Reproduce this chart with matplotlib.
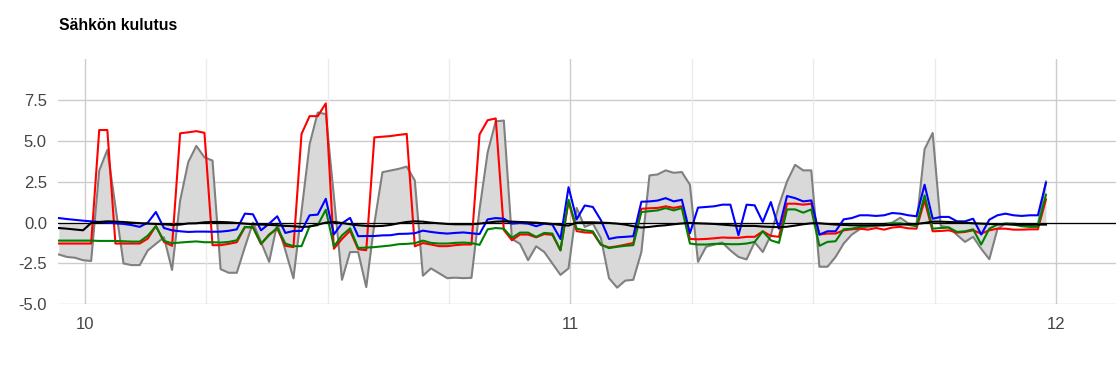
"""Sähkön kulutus - area + line chart."""
import numpy as np
import matplotlib
matplotlib.use('Agg')
import matplotlib.pyplot as plt

plt.rcParams['font.family'] = ['Liberation Sans', 'DejaVu Sans']

# Time axis: day-of-month, one sample every 24 min starting 9.946
t_start = 9.946
t_step = 1 / 60
n_points = 123

# Series values
gray_vals = [
    -1.95, -2.1, -2.15, -2.3, -2.35, 3.19, 4.45, 1.0, -2.5, -2.6,
    -2.6, -1.7, -1.3, -0.9, -2.9, 1.36, 3.7, 4.7, 4.0, 3.8,
    -2.85, -3.07, -3.07, -1.5, 0.0, -1.2, -2.4, -0.06, -1.7, -3.41,
    0.7, 4.8, 6.74, 6.65, 1.6, -3.5, -1.8, -1.8, -3.95, -0.06,
    3.09, 3.19, 3.29, 3.43, 2.58, -3.25, -2.8, -3.1, -3.4, -3.37,
    -3.4, -3.38, 0.8, 4.3, 6.2, 6.25, -1.0, -1.3, -2.3, -1.45,
    -1.8, -2.5, -3.2, -2.8, 0.9, -0.26, -0.06, -0.95, -3.4, -3.98,
    -3.55, -3.5, -1.8, 2.89, 2.95, 3.2, 3.05, 3.1, 2.32, -2.4,
    -1.48, -1.35, -1.22, -1.7, -2.1, -2.25, -1.2, -1.8, -0.77, 1.06,
    2.52, 3.54, 3.2, 3.2, -2.7, -2.7, -2.1, -1.28, -0.73, -0.4,
    -0.26, -0.2, -0.08, 0.0, 0.3, -0.05, -0.1, 4.5, 5.49, -0.2,
    -0.3, -0.75, -1.18, -0.87, -1.6, -2.24, -0.4, -0.05, -0.05, -0.15,
    -0.15, -0.12, 2.52,
]
red_vals = [
    -1.28, -1.28, -1.28, -1.28, -1.28, 5.67, 5.67, -1.28, -1.28, -1.28,
    -1.28, -0.98, -0.2, -1.18, -1.42, 5.47, 5.53, 5.6, 5.5, -1.38,
    -1.38, -1.3, -1.2, -0.28, -0.28, -1.32, -0.72, -0.38, -1.42, -1.5,
    5.43, 6.52, 6.52, 7.3, -1.6, -1.0, -0.5, -1.63, -1.69, 5.22,
    5.26, 5.3, 5.37, 5.43, -1.45, -1.25, -1.34, -1.44, -1.44, -1.38,
    -1.34, -1.34, 5.4, 6.27, 6.38, -0.45, -1.08, -0.73, -0.73, -0.9,
    -0.7, -0.75, -1.7, 1.3, -0.52, -0.6, -0.62, -1.36, -1.52, -1.45,
    -1.35, -1.25, 0.85, 0.88, 0.9, 1.0, 0.9, 1.0, -1.0, -1.02,
    -1.0, -0.96, -0.91, -0.93, -0.93, -0.87, -0.87, -0.53, -0.81, -0.87,
    1.16, 1.16, 1.1, 1.16, -0.73, -0.67, -0.67, -0.47, -0.41, -0.37,
    -0.43, -0.33, -0.43, -0.3, -0.26, -0.35, -0.37, 1.36, -0.53, -0.51,
    -0.47, -0.61, -0.57, -0.47, -0.67, -0.47, -0.37, -0.37, -0.43, -0.43,
    -0.41, -0.41, 1.42,
]
blue_vals = [
    0.28, 0.22, 0.17, 0.12, 0.08, 0.04, 0.0, -0.04, -0.08, -0.15,
    -0.26, 0.0, 0.65, -0.33, -0.47, -0.53, -0.57, -0.55, -0.55, -0.56,
    -0.55, -0.5, -0.41, 0.55, 0.51, -0.47, -0.06, 0.39, -0.63, -0.51,
    -0.51, 0.45, 0.49, 1.46, -0.72, -0.04, 0.29, -0.83, -0.82, -0.82,
    -0.78, -0.77, -0.69, -0.68, -0.65, -0.49, -0.57, -0.63, -0.67, -0.63,
    -0.6, -0.65, -0.7, 0.2, 0.28, 0.24, -0.06, -0.02, -0.06, -0.22,
    -0.06, -0.12, -1.0, 2.17, 0.2, 1.05, 0.96, 0.15, -1.0, -0.9,
    -0.87, -0.83, 1.28, 1.3, 1.35, 1.5, 1.3, 1.4, -0.65, 0.92,
    0.96, 1.0, 1.1, 1.1, -0.77, 1.1, 1.06, 0.04, 1.26, -0.37,
    1.63, 1.5, 1.3, 1.36, -0.73, -0.53, -0.53, 0.2, 0.28, 0.45,
    0.45, 0.41, 0.45, 0.59, 0.55, 0.45, 0.39, 2.32, 0.24, 0.35,
    0.35, 0.08, 0.08, 0.24, -0.73, 0.18, 0.45, 0.55, 0.45, 0.41,
    0.45, 0.45, 2.44,
]
green_vals = [
    -1.1, -1.1, -1.1, -1.1, -1.1, -1.12, -1.12, -1.12, -1.14, -1.16,
    -1.16, -0.8, -0.22, -1.12, -1.26, -1.22, -1.18, -1.15, -1.2, -1.2,
    -1.22, -1.18, -1.08, -0.26, -0.3, -1.28, -0.77, -0.3, -1.28, -1.44,
    -1.44, -0.22, -0.16, 0.79, -1.46, -0.78, -0.35, -1.55, -1.53, -1.5,
    -1.45, -1.4, -1.32, -1.3, -1.26, -1.1, -1.24, -1.28, -1.28, -1.24,
    -1.22, -1.25, -1.36, -0.41, -0.33, -0.37, -0.93, -0.61, -0.61, -0.87,
    -0.63, -0.67, -1.69, 1.4, -0.37, -0.47, -0.53, -1.34, -1.56, -1.48,
    -1.42, -1.38, 0.65, 0.7, 0.75, 0.89, 0.75, 0.89, -1.28, -1.34,
    -1.34, -1.3, -1.3, -1.32, -1.32, -1.28, -1.18, -0.53, -1.08, -1.24,
    0.81, 0.81, 0.61, 0.81, -1.42, -1.18, -1.14, -0.41, -0.37, -0.26,
    -0.2, -0.16, -0.16, -0.05, -0.04, -0.14, -0.22, 1.67, -0.37, -0.33,
    -0.3, -0.57, -0.53, -0.41, -1.34, -0.37, -0.12, -0.06, -0.12, -0.22,
    -0.26, -0.26, 1.71,
]
black_vals = [
    -0.33, -0.37, -0.42, -0.47, -0.02, 0.04, 0.08, 0.06, 0.04, 0.0,
    -0.03, -0.06, -0.08, -0.1, -0.14, -0.12, -0.05, -0.04, 0.02, 0.04,
    0.04, 0.02, -0.02, -0.06, -0.1, -0.12, -0.14, -0.16, -0.2, -0.22,
    -0.26, -0.24, -0.12, 0.0, 0.04, -0.02, -0.1, -0.16, -0.2, -0.22,
    -0.2, -0.14, -0.04, 0.04, 0.08, 0.06, 0.0, -0.04, -0.08, -0.1,
    -0.1, -0.1, -0.06, 0.0, 0.06, 0.08, 0.06, 0.04, 0.02, 0.0,
    -0.04, -0.08, -0.14, -0.18, 0.0, 0.02, 0.02, 0.0, -0.02, -0.06,
    -0.12, -0.22, -0.3, -0.26, -0.2, -0.16, -0.1, -0.05, -0.02, -0.04,
    -0.06, -0.08, -0.12, -0.16, -0.2, -0.2, -0.2, -0.24, -0.26, -0.28,
    -0.25, -0.18, -0.1, -0.04, -0.04, -0.08, -0.12, -0.14, -0.16, -0.16,
    -0.16, -0.16, -0.16, -0.14, -0.12, -0.1, -0.08, -0.02, 0.06, 0.06,
    0.04, 0.02, 0.0, -0.04, -0.06, -0.08, -0.1, -0.1, -0.12, -0.12,
    -0.12, -0.12, -0.12,
]

y_ticks = [-5.0, -2.5, 0.0, 2.5, 5.0, 7.5]
day_ticks = [10, 11, 12]
minor_ticks = [10.25, 10.5, 10.75, 11.25, 11.5, 11.75]

times = t_start + np.arange(n_points) * t_step

fig = plt.figure(figsize=(11.16, 3.8), dpi=100)
ax = fig.add_axes([58 / 1116, 75.7 / 380, 1058 / 1116, 245 / 380])

# Grid
for y in y_ticks:
    ax.axhline(y, color='#cccccc', linewidth=1, zorder=0)
for x in minor_ticks:
    ax.axvline(x, color='#ebebeb', linewidth=1, zorder=0)
for x in day_ticks:
    ax.axvline(x, color='#cccccc', linewidth=1, zorder=0)

# Area series
ax.fill_between(times, gray_vals, 0, color='#d9d9d9', linewidth=0, zorder=1)
ax.plot(times, gray_vals, color='#808080', linewidth=1.5, zorder=2)

# Baseline
ax.axhline(0, color='#000000', linewidth=0.9, zorder=2.5)

# Lines
ax.plot(times, red_vals, color='#ff0000', linewidth=1.5, zorder=3)
ax.plot(times, blue_vals, color='#0000ff', linewidth=1.5, zorder=4)
ax.plot(times, green_vals, color='#008000', linewidth=1.5, zorder=5)
ax.plot(times, black_vals, color='#000000', linewidth=1.5, zorder=6)

ax.set_xlim(9.9444, 12.1236)
ax.set_ylim(-5, 10)
ax.set_yticks(y_ticks)
ax.set_yticklabels([f'{v:.1f}' for v in y_ticks])
ax.set_xticks(day_ticks)
ax.set_xticklabels([str(d) for d in day_ticks])
ax.tick_params(axis='both', length=0, labelsize=12, labelcolor='#444444')
ax.tick_params(axis='y', pad=8)
ax.tick_params(axis='x', pad=9)
for s in ax.spines.values():
    s.set_visible(False)

fig.text(59 / 1116, 1 - 25 / 380, 'Sähkön kulutus', fontsize=11.4,
         fontweight='bold', va='center', ha='left')

plt.savefig('out.png', dpi=100)
